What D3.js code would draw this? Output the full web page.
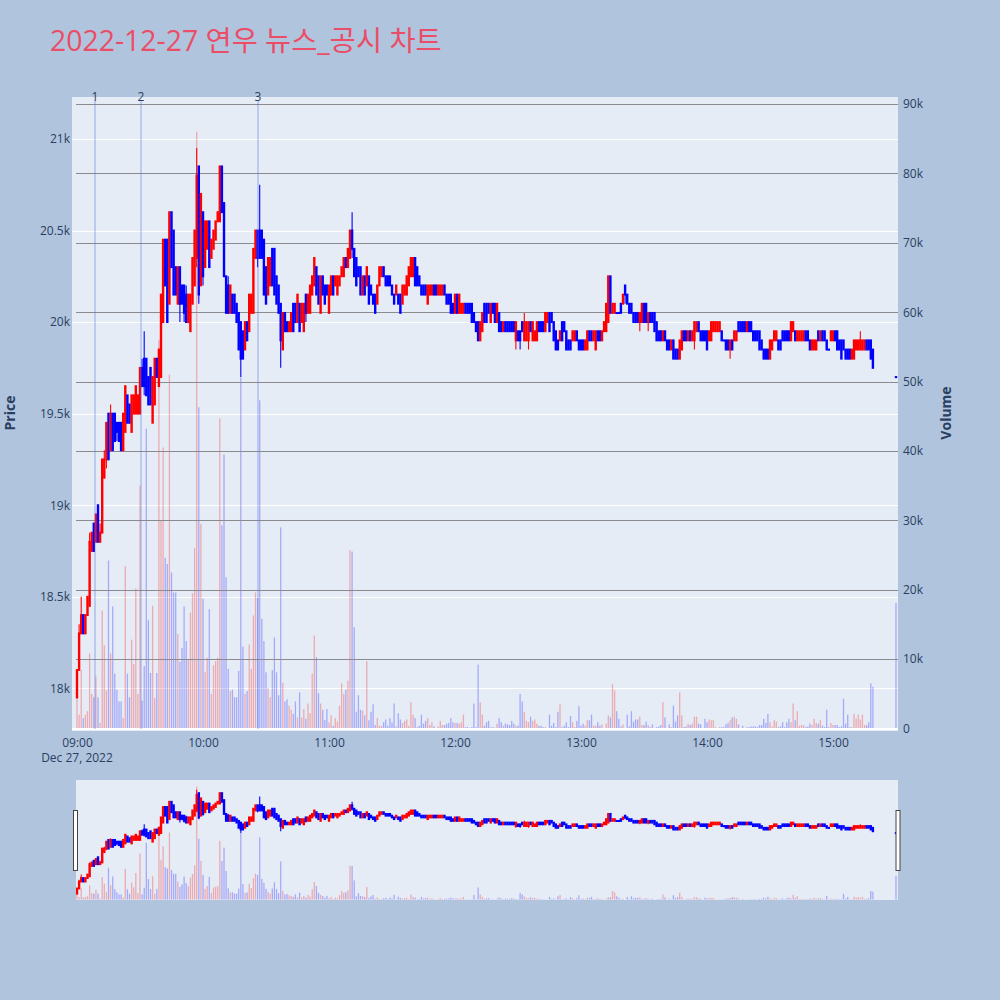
<!DOCTYPE html>
<html><head><meta charset="utf-8">
<script src="https://cdn.jsdelivr.net/npm/d3@7"></script>
<style>
html,body{margin:0;padding:0;background:#b0c4de;}
svg{display:block;font-family:"Open Sans","Noto Sans",Arial,sans-serif;}
</style></head><body>
<svg id="chart" width="1000" height="1000"></svg>
<script>
// ---------- DATA ----------
const titleText = "2022-12-27 연우 뉴스_공시 차트";
const tradeDate = "2022-12-27";
const firstCandle = "09:00";
const lastCandle = "15:19";
const closingAuction = "15:30";

const openP = [
17950,18100,18300,18400,18300,18400,18450,18750,18900,18800,
19000,18800,18850,19150,19250,19500,19300,19500,19500,19450,
19450,19450,19300,19400,19600,19550,19400,19500,19500,19500,
19500,19750,19800,19800,19700,19750,19450,19550,19800,19650,
19700,20000,20450,20450,20100,20600,20500,20300,20100,20300,
20200,20200,20150,20000,19950,20100,20200,20350,20850,20200,
20600,20300,20400,20550,20350,20400,20450,20550,20550,20850,
20650,20250,20200,20050,20150,20150,20100,20050,20000,19950,
19850,20000,19950,20050,20050,20350,20500,20500,20500,20450,
20300,20150,20200,20400,20400,20250,20200,20100,19850,20050,
20000,19950,19950,20100,20100,20000,20100,20000,19950,20150,
20050,20050,20150,20200,20300,20250,20050,20250,20200,20200,
20050,20150,20250,20200,20150,20200,20250,20250,20350,20300,
20350,20500,20400,20350,20300,20300,20150,20250,20200,20250,
20200,20150,20150,20100,20200,20250,20300,20250,20250,20250,
20200,20150,20150,20150,20150,20100,20150,20150,20200,20250,
20250,20350,20300,20250,20200,20200,20200,20100,20150,20150,
20200,20200,20150,20150,20150,20200,20150,20150,20150,20100,
20050,20150,20050,20050,20050,20100,20100,20100,20100,20050,
20000,20000,19900,19950,20100,20100,20100,20000,20100,20100,
20000,20050,20000,19950,20000,20000,20000,20000,20000,19900,
19950,19950,20000,19900,19900,19900,20000,19900,19900,19900,
20000,20000,20000,19950,20000,20050,20050,20000,19950,19900,
19900,20000,20000,19950,19900,19900,19900,19900,19950,19900,
19900,19900,19850,19850,19950,19950,19900,19850,19950,19950,
19900,19950,19950,20000,20250,20050,20050,20050,20050,20100,
20100,20200,20150,20100,20100,20050,20050,20050,20000,20000,
20100,20100,20000,20050,20050,20050,20000,19950,19950,19900,
19950,19900,19900,19850,19900,19850,19850,19800,19850,19950,
19950,19900,19950,19900,19900,19950,20000,19950,19950,19950,
19950,19900,19900,19950,19950,19950,19950,19950,19900,19900,
19900,19850,19900,19900,19900,20000,20000,20000,20000,19950,
20000,20000,19950,19950,19950,19950,19900,19850,19850,19850,
19800,19850,19900,19900,19900,19900,19950,19950,19950,19950,
19900,19950,19950,19900,19900,19900,19900,19950,19950,19900,
19850,19850,19850,19950,19900,19950,19950,19900,19850,19900,
19900,19950,19950,19900,19900,19900,19850,19850,19850,19800,
19800,19850,19850,19850,19850,19850,19900,19900,19900,19850,
19700];

const highP = [
18100,18350,18500,18400,18400,18500,18850,18850,18900,18950,
19000,18900,19250,19300,19450,19500,19550,19500,19500,19450,
19450,19450,19500,19650,19600,19550,19600,19600,19650,19600,
19750,19800,19950,19800,19700,19750,19700,19800,19800,19850,
20150,20450,20450,20450,20600,20600,20500,20300,20300,20300,
20200,20200,20200,20150,20150,20350,20500,20950,20850,20700,
20600,20550,20550,20550,20450,20500,20550,20600,20850,20850,
20650,20250,20250,20200,20150,20150,20100,20050,20000,19950,
20000,20000,20150,20150,20400,20500,20500,20750,20500,20450,
20300,20350,20350,20400,20400,20250,20200,20100,20050,20050,
20000,20000,20050,20100,20100,20150,20100,20100,20100,20150,
20150,20200,20250,20350,20300,20250,20250,20250,20200,20200,
20200,20250,20250,20250,20250,20250,20300,20350,20350,20400,
20500,20600,20400,20350,20300,20300,20250,20250,20300,20250,
20200,20150,20150,20200,20300,20300,20300,20250,20250,20250,
20200,20150,20200,20150,20150,20200,20200,20250,20300,20350,
20350,20350,20300,20250,20200,20200,20200,20200,20200,20200,
20200,20200,20200,20200,20200,20200,20150,20150,20150,20100,
20150,20150,20150,20100,20100,20100,20100,20100,20100,20050,
20000,20000,20000,20050,20100,20100,20100,20100,20100,20100,
20100,20050,20000,20000,20000,20000,20000,20000,20000,20000,
19950,19950,20000,20050,20000,20000,20000,20000,19950,20000,
20000,20000,20000,20050,20050,20050,20050,20000,19950,19900,
19950,20000,20000,19950,19900,19900,19950,19950,19950,19900,
19900,19900,19900,19950,19950,19950,19950,19950,19950,19950,
19950,20000,20100,20250,20250,20100,20100,20050,20050,20100,
20150,20200,20150,20100,20100,20050,20050,20050,20050,20100,
20100,20100,20050,20050,20050,20050,20000,19950,19950,19950,
19950,19900,19900,19900,19900,19850,19850,19900,19950,19950,
19950,19950,19950,19950,20000,20000,20000,19950,19950,19950,
19950,19950,20000,20000,20000,20000,20000,19950,19900,19900,
19900,19900,19900,19950,19950,20000,20000,20000,20000,20000,
20000,20000,19950,19950,19950,19950,19900,19850,19850,19850,
19900,19900,19950,19950,19900,19900,19950,19950,19950,19950,
20000,20000,19950,19950,19950,19950,19950,19950,19950,19900,
19900,19900,19900,19950,19950,19950,19950,19900,19850,19950,
19950,19950,19950,19900,19900,19900,19850,19850,19850,19850,
19900,19900,19900,19950,19900,19900,19900,19900,19900,19850,
19700];

const lowP = [
17950,18100,18300,18300,18300,18400,18450,18750,18750,18800,
18800,18800,18850,19150,19200,19250,19300,19300,19350,19350,
19350,19300,19300,19400,19450,19450,19400,19500,19500,19500,
19500,19650,19600,19600,19550,19550,19450,19550,19700,19650,
19700,20000,20200,20000,20100,20300,20150,20150,20100,20000,
20100,20000,20000,20000,19950,20100,20200,20300,20100,20200,
20200,20300,20400,20300,20350,20400,20450,20550,20550,20600,
20250,20050,20050,20050,20050,20050,20000,19850,19700,19800,
19850,19900,19950,20050,20050,20350,20300,20350,20350,20150,
20100,20150,20200,20200,20150,20100,20050,19750,19850,19950,
19950,19950,19950,19950,20000,20000,19950,20000,19950,20000,
20050,20050,20150,20200,20150,20100,20050,20150,20100,20150,
20050,20150,20150,20200,20150,20200,20250,20250,20300,20300,
20350,20350,20250,20200,20250,20150,20150,20150,20200,20100,
20150,20100,20050,20100,20200,20250,20250,20200,20200,20200,
20150,20100,20150,20100,20050,20100,20150,20150,20200,20250,
20250,20200,20200,20200,20150,20150,20150,20100,20150,20150,
20150,20150,20150,20150,20150,20150,20100,20100,20050,20050,
20050,20050,20050,20050,20050,20050,20050,20050,20000,20000,
19950,19900,19900,19950,20000,20000,20050,20000,20050,20000,
20000,19950,19950,19950,19950,19950,19950,19950,19950,19850,
19900,19850,19950,19900,19900,19850,19950,19900,19900,19900,
19950,19950,19950,19950,20000,19950,20000,19900,19850,19850,
19900,19900,19950,19850,19850,19850,19900,19900,19900,19850,
19850,19850,19850,19850,19900,19900,19900,19850,19900,19900,
19900,19950,19950,20000,20050,20050,20050,20050,20050,20050,
20100,20100,20100,20050,20050,20000,20000,20000,19950,20000,
20000,20000,19950,20000,20000,19950,19900,19900,19900,19900,
19900,19850,19850,19850,19800,19800,19800,19800,19850,19900,
19900,19900,19900,19900,19850,19950,19950,19900,19900,19900,
19850,19900,19900,19950,19950,19950,19950,19900,19900,19850,
19850,19800,19850,19900,19900,19950,19950,19950,19950,19950,
19950,19950,19900,19900,19900,19850,19850,19800,19800,19800,
19800,19850,19900,19900,19850,19850,19900,19900,19900,19900,
19900,19950,19900,19900,19900,19900,19900,19900,19900,19850,
19850,19850,19850,19900,19900,19900,19900,19850,19850,19900,
19900,19900,19850,19850,19800,19850,19800,19800,19800,19800,
19800,19850,19850,19850,19850,19850,19850,19850,19800,19750,
19700];

const closeP = [
18100,18300,18400,18300,18400,18500,18800,18850,18750,18950,
18800,18850,19250,19250,19450,19250,19500,19300,19350,19400,
19350,19300,19500,19650,19450,19450,19600,19600,19650,19600,
19750,19650,19650,19600,19550,19550,19700,19800,19700,19850,
20150,20450,20200,20000,20600,20300,20150,20150,20300,20100,
20100,20050,20000,20150,20150,20350,20500,20800,20150,20700,
20250,20550,20550,20300,20450,20500,20550,20600,20850,20600,
20250,20050,20050,20200,20050,20050,20000,19850,19800,19800,
20000,19900,20150,20150,20400,20500,20350,20350,20350,20150,
20100,20350,20350,20200,20150,20100,20050,19900,20050,19950,
19950,20000,20050,19950,20000,20150,19950,20100,20100,20050,
20150,20200,20250,20350,20150,20100,20250,20150,20100,20150,
20200,20250,20150,20250,20250,20250,20300,20350,20300,20400,
20500,20400,20250,20200,20250,20150,20250,20150,20300,20100,
20150,20100,20050,20200,20300,20300,20250,20200,20200,20200,
20150,20100,20200,20100,20050,20200,20200,20250,20300,20350,
20350,20200,20200,20200,20150,20150,20150,20200,20200,20200,
20150,20150,20200,20200,20200,20150,20100,20100,20050,20050,
20150,20050,20150,20100,20100,20050,20050,20050,20000,20000,
19950,19900,20000,20050,20000,20000,20050,20100,20050,20000,
20100,19950,19950,20000,19950,19950,19950,19950,19950,20000,
19900,19900,19950,20000,20000,20000,19950,20000,19950,20000,
19950,19950,19950,20050,20050,19950,20000,19900,19850,19850,
19950,19900,19950,19850,19850,19850,19950,19950,19900,19850,
19850,19850,19900,19950,19900,19900,19950,19950,19900,19900,
19950,20000,20100,20250,20050,20100,20100,20050,20050,20050,
20150,20150,20100,20050,20050,20000,20000,20000,20050,20100,
20000,20000,20050,20000,20000,19950,19900,19900,19900,19950,
19900,19850,19850,19900,19800,19800,19800,19900,19950,19900,
19900,19950,19900,19950,20000,20000,19950,19900,19900,19900,
19850,19950,20000,20000,20000,20000,20000,19900,19900,19850,
19850,19900,19850,19950,19950,19950,19950,19950,19950,20000,
19950,19950,19900,19900,19900,19850,19850,19800,19800,19800,
19900,19900,19950,19950,19850,19850,19900,19900,19900,19900,
20000,20000,19900,19950,19950,19950,19950,19900,19900,19850,
19900,19900,19900,19900,19950,19900,19900,19850,19850,19950,
19950,19900,19850,19850,19800,19850,19800,19800,19800,19850,
19900,19900,19900,19900,19900,19900,19850,19850,19800,19750,
19700];

const volumes = [
4500,2000,8400,1500,2000,2500,10800,5000,4500,7500,
4500,800,17000,12000,5500,24200,10800,17600,7900,5600,
3900,3900,1500,23400,7900,4500,12800,9300,20200,5000,
35000,4000,9000,43200,15600,8000,17700,4400,8000,56000,
30000,40500,24600,23700,51000,22500,19600,19600,13600,9600,
11600,17600,12600,10000,16700,19500,26000,86000,46300,29500,
18700,8100,10200,17200,5000,9100,9700,10200,44700,29300,
39500,21800,8600,5400,5600,4500,4500,8300,50600,11800,
5000,5400,12100,8600,16300,19600,18800,47300,15800,12600,
8100,5800,4500,8400,13100,8100,4800,29000,6600,3900,
4200,3300,2700,2100,3900,1600,5200,1600,2800,1400,
3600,2200,7900,13400,10300,5100,3600,2700,1200,2800,
900,1900,400,1500,1000,3300,6500,5000,5600,6900,
25700,25500,14600,2400,4800,2700,2600,1900,9700,1200,
2400,3500,500,1500,400,400,900,1300,400,1500,
900,3600,300,2200,1300,800,1100,1300,400,3800,
2000,1500,200,400,2000,700,1100,1500,500,900,
300,0,300,1100,500,500,700,800,1500,900,
800,800,700,900,2000,200,200,100,200,3600,
200,9200,3800,2000,400,900,1100,200,200,100,
700,1500,900,400,700,600,500,1100,700,400,
400,5000,3900,2400,1100,900,1700,1100,1300,700,
400,400,200,200,0,2000,400,800,200,2400,
3500,200,400,900,200,1800,900,200,1100,3200,
400,700,400,1200,1200,2000,400,400,900,400,
600,0,700,1900,1600,6400,5500,2500,1400,300,
600,0,2000,300,2500,1000,1300,1300,1700,500,
500,1000,500,200,600,0,200,300,500,3800,
1600,0,600,200,3300,1000,1900,5200,1900,200,
300,700,500,700,1700,1700,700,600,0,1400,
900,1300,1200,1200,200,0,200,200,200,600,
800,1200,1600,1700,1400,600,0,400,0,200,
200,300,300,300,200,500,500,1400,800,2100,
900,300,1200,1000,200,300,900,200,900,1400,
900,3600,1200,2500,400,500,500,200,300,700,
500,1400,800,700,1200,400,200,2700,200,800,
500,500,500,200,300,4300,700,2000,200,200,
2100,1400,2000,1300,2000,500,500,900,6500,6000,
18100];

const newsTimes = ["09:08:34","09:30:29","10:26:12"];
const newsLabels = ["1","2","3"];
const priceTicks = [18000,18500,19000,19500,20000,20500,21000];
const volumeTicks = [0,10000,20000,30000,40000,50000,60000,70000,80000,90000];
const timeTicks = ["09:00","10:00","11:00","12:00","13:00","14:00","15:00"];
const priceRange = [17767,21229];
const volumeRange = [-360,91009];
const timeRange = ["08:57:37","15:30:57"];
const sliderTimeRange = ["08:59:31","15:30:57"];

// ---------- BUILD ----------
const parseT = d3.timeParse("%Y-%m-%d %H:%M:%S");
const at = s => parseT(`${tradeDate} ${s.length===5 ? s+":00" : s}`);
const times = d3.timeMinutes(at(firstCandle), d3.timeMinute.offset(at(lastCandle),1)).concat([at(closingAuction)]);
const data = times.map((t,i)=>({t,o:openP[i],h:highP[i],l:lowP[i],c:closeP[i],v:volumes[i]}));
data.forEach((d,i)=>{const prev=i?data[i-1].c:d.o; d.up = d.c>d.o || (d.c===d.o && d.c>prev);});

const UP="#ff0000", DN="#0000ff";
const UPV="rgba(255,0,0,0.28)", DNV="rgba(0,0,255,0.28)";
const TXT="#2a3f5f";

const svg=d3.select("#chart");
svg.append("rect").attr("width",1000).attr("height",1000).attr("fill","#b0c4de");

// title
svg.append("text").attr("x",50).attr("y",51).attr("fill","#eb4d66")
  .style("font-family",'"Open Sans","Noto Sans CJK KR",sans-serif').style("font-size","28.4px").text(titleText);

// main plot
const P={l:72,r:898,t:97,b:731};
const x=d3.scaleTime().domain(timeRange.map(at)).range([P.l,P.r]);
const yP=d3.scaleLinear().domain(priceRange).range([P.b,P.t]);
const yV=d3.scaleLinear().domain(volumeRange).range([P.b,P.t]);

const defs=svg.append("defs");
defs.append("clipPath").attr("id","clipMain").append("rect").attr("x",P.l).attr("y",P.t).attr("width",P.r-P.l+2).attr("height",P.b-P.t);
svg.append("rect").attr("x",P.l).attr("y",P.t).attr("width",P.r-P.l).attr("height",P.b-P.t).attr("fill","#e5ecf6");

const gm=svg.append("g").attr("clip-path","url(#clipMain)");
// price grid (white)
gm.selectAll(null).data(priceTicks).join("line")
  .attr("x1",P.l).attr("x2",P.r).attr("y1",d=>Math.round(yP(d))+0.5).attr("y2",d=>Math.round(yP(d))+0.5)
  .attr("stroke","#ffffff").attr("stroke-width",1);

function drawSeries(g,xs,yp,yv,gridFn){
  const bw=1.3;
  g.selectAll(null).data(data.filter(d=>d.v>0)).join("rect")
    .attr("x",d=>xs(d.t)-bw/2).attr("width",bw)
    .attr("y",d=>yv(d.v)).attr("height",d=>Math.max(0,yv(0)-yv(d.v)))
    .attr("fill",d=>d.up?UPV:DNV);
  if(gridFn) gridFn(g);
  g.selectAll(null).data(data).join("line")
    .attr("x1",d=>xs(d.t)).attr("x2",d=>xs(d.t))
    .attr("y1",d=>yp(d.h)).attr("y2",d=>yp(d.l))
    .attr("stroke",d=>d.up?UP:DN).attr("stroke-width",1.1);
  g.selectAll(null).data(data).join("rect")
    .attr("x",d=>xs(d.t)-0.25).attr("width",0.5)
    .attr("y",d=>yp(Math.max(d.o,d.c))).attr("height",d=>Math.max(0.2,Math.abs(yp(d.o)-yp(d.c))))
    .attr("fill",d=>d.up?UP:DN).attr("stroke",d=>d.up?UP:DN).attr("stroke-width",1.9);
}
drawSeries(gm,x,yP,yV,g=>{
  g.selectAll(null).data(volumeTicks.filter(d=>d>0)).join("line")
    .attr("x1",76).attr("x2",P.r).attr("y1",d=>Math.round(yV(d))+0.5).attr("y2",d=>Math.round(yV(d))+0.5)
    .attr("stroke","#8a8a8f").attr("stroke-width",1.2);
  g.append("line").attr("x1",P.l).attr("x2",P.r).attr("y1",yV(0)+0.5).attr("y2",yV(0)+0.5)
    .attr("stroke","#ffffff").attr("stroke-width",2);
});

// news lines
const news=newsTimes.map((s,i)=>({t:at(s),label:newsLabels[i]}));
svg.selectAll(null).data(news).join("line")
  .attr("x1",d=>x(d.t)).attr("x2",d=>x(d.t)).attr("y1",P.t+3).attr("y2",P.b-2)
  .attr("stroke","rgba(80,110,225,0.42)").attr("stroke-width",1.3);
svg.selectAll(null).data(news).join("text")
  .attr("x",d=>x(d.t)).attr("y",101).attr("text-anchor","middle")
  .attr("fill",TXT).style("font-size","12px").text(d=>d.label);

// axes
const fmtK=d3.format("~s");
const gl=svg.append("g").attr("transform",`translate(${P.l},0)`)
  .call(d3.axisLeft(yP).tickValues(priceTicks).tickFormat(fmtK).tickSize(0).tickPadding(2));
const gr=svg.append("g").attr("transform",`translate(${P.r},0)`)
  .call(d3.axisRight(yV).tickValues(volumeTicks).tickFormat(d=>d===0?"0":fmtK(d)).tickSize(0).tickPadding(5));
const gb=svg.append("g").attr("transform",`translate(0,${P.b})`)
  .call(d3.axisBottom(x).tickValues(timeTicks.map(at)).tickFormat(d3.timeFormat("%H:%M")).tickSize(0).tickPadding(7));
[gl,gr,gb].forEach(g=>{g.select(".domain").remove();g.selectAll("text").attr("fill",TXT).style("font-size","12px").style("font-family",'"Open Sans",sans-serif');});
svg.append("text").attr("x",x(at(firstCandle))).attr("y",762).attr("text-anchor","middle")
  .attr("fill",TXT).style("font-size","12px").text(d3.timeFormat("%b %-d, %Y")(at(firstCandle)));

svg.append("text").attr("transform","translate(15,413) rotate(-90)").attr("text-anchor","middle")
  .attr("fill",TXT).style("font-size","14px").style("font-weight","bold").text("Price");
svg.append("text").attr("transform","translate(951,413) rotate(-90)").attr("text-anchor","middle")
  .attr("fill",TXT).style("font-size","14px").style("font-weight","bold").text("Volume");

// range slider
const S={l:76,r:898,t:780,b:900};
const xs=d3.scaleTime().domain(sliderTimeRange.map(at)).range([S.l,S.r]);
const ysP=d3.scaleLinear().domain(priceRange).range([S.b,S.t]);
const ysV=d3.scaleLinear().domain(volumeRange).range([S.b,S.t]);
defs.append("clipPath").attr("id","clipSlider").append("rect").attr("x",S.l).attr("y",S.t).attr("width",S.r-S.l).attr("height",S.b-S.t);
svg.append("rect").attr("x",S.l).attr("y",S.t).attr("width",S.r-S.l).attr("height",S.b-S.t).attr("fill","#e5ecf6");
const gs=svg.append("g").attr("clip-path","url(#clipSlider)");
drawSeries(gs,xs,ysP,ysV,null);
[S.l-2.5,S.r-2].forEach(hx=>{
  svg.append("rect").attr("x",hx).attr("y",810.5).attr("width",4).attr("height",60)
    .attr("fill","#ffffff").attr("stroke","#444").attr("stroke-width",1);
});
</script>
</body></html>
